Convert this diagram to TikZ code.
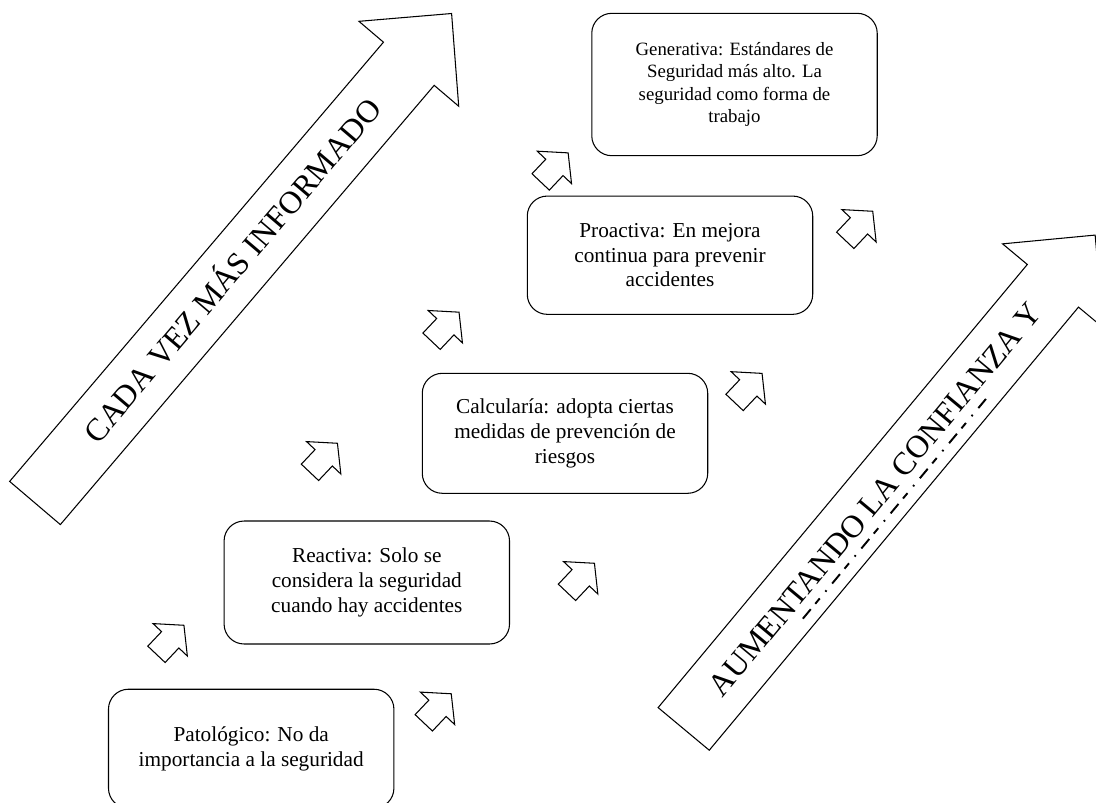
\documentclass[tikz,border=0pt]{standalone}
\usepackage{fontspec}
\setmainfont{Liberation Serif}

\begin{document}
\begin{tikzpicture}[x=0.02cm, y=-0.02cm,
  caja/.style={draw, rounded corners=0.4cm, line width=0.6pt, minimum width=5.71cm,
    align=center, font=\fontsize{12.1}{14}\selectfont},
  flecha/.style={draw, line width=0.6pt, line join=miter},
  grande/.style={font=\fontsize{18.2}{21}\selectfont, text height=12pt, text depth=0pt, inner sep=0pt},
  raya/.style={line width=1.1pt, dash pattern=on 7pt off 4pt on 4pt off 5pt on 1pt off 5pt}]

  \useasboundingbox (0,0) rectangle (1096,802);
  \clip (0,0) rectangle (1096,802);

  % --- big arrow on the left ---
  \begin{scope}[shift={(35,503)}, rotate=49.6]
    \draw[flecha] (0,-33.3) -- (576.8,-33.3) -- (576.8,-65.5) -- (642.8,0)
      -- (576.8,65.5) -- (576.8,33.3) -- (0,33.3) -- cycle;
    \node[grande, transform shape] (informado) at (305,0) {CADA VEZ MÁS INFORMADO};
  \end{scope}

  % --- big arrow on the right ---
  \begin{scope}[shift={(683.7,728.9)}, rotate=50.2]
    \draw[flecha] (0,-33.3) -- (576.8,-33.3) -- (576.8,-65.5) -- (642.8,0)
      -- (576.8,65.5) -- (576.8,33.3) -- (0,33.3) -- cycle;
    \node[grande, transform shape] (confianza) at (299,0) {AUMENTANDO LA CONFIANZA Y};
    \draw[raya] (161,21) -- (447,21);
  \end{scope}

  % --- levels ---
  \node[caja, minimum height=2.848cm, font=\fontsize{10.7}{12.8}\selectfont] (generativa) at (734.5,84.5)
    {Generativa: Estándares de\\Seguridad más alto. La\\seguridad como forma de\\trabajo};
  \node[caja, minimum height=2.366cm] (proactiva) at (670,255.2)
    {Proactiva: En mejora\\continua para prevenir\\accidentes};
  \node[caja, minimum height=2.4cm] (calcularia) at (565,433.3)
    {Calcularía: adopta ciertas\\medidas de prevención de\\riesgos};
  \node[caja, minimum height=2.46cm] (reactiva) at (366.8,582.5)
    {Reactiva: Solo se\\considera la seguridad\\cuando hay accidentes};
  \node[caja, minimum height=2.38cm] (patologico) at (251.2,748.7)
    {Patológico: No da\\importancia a la seguridad};

  % --- small arrows ---
  \foreach \px/\py in {170.2/639.8, 437.5/708.3, 580.7/577.8, 323.7/457.8,
                       445.3/326.7, 748.3/387.9, 554.4/167.4, 859/225.8}
    \draw[flecha, shift={(\px,\py)}, rotate=46.6] (-20,-11.9) -- (0,-11.9) -- (0,-23.6)
      -- (20,0) -- (0,23.6) -- (0,11.9) -- (-20,11.9) -- cycle;

\end{tikzpicture}
\end{document}
